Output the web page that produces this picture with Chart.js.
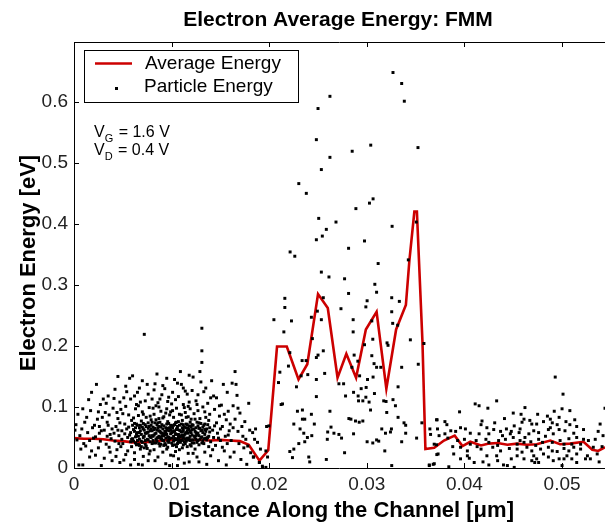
<!DOCTYPE html>
<html><head><meta charset="utf-8">
<script src="https://cdn.jsdelivr.net/npm/chart.js@4.4.1/dist/chart.umd.min.js"></script>
<style>html,body{margin:0;padding:0;background:#fff;overflow:hidden}canvas{display:block}</style>
</head><body>
<canvas id="c" width="609" height="527"></canvas>
<script>
const titleText = 'Electron Average Energy: FMM';
const xAxisTitle = 'Distance Along the Channel [\u03bcm]';
const yAxisTitle = 'Electron Energy [eV]';
const xTicks = [0, 0.01, 0.02, 0.03, 0.04, 0.05];
const xTickLabels = ['0', '0.01', '0.02', '0.03', '0.04', '0.05'];
const yTicks = [0, 0.1, 0.2, 0.3, 0.4, 0.5, 0.6];
const yTickLabels = ['0', '0.1', '0.2', '0.3', '0.4', '0.5', '0.6'];
const seriesNames = ['Average Energy', 'Particle Energy'];

// Average energy curve
const avgX = [0,0.001,0.002,0.003,0.004,0.005,0.006,0.007,0.008,0.009,0.010,0.011,0.012,0.013,0.014,0.015,0.016,0.017,0.0179,0.0190,0.0199,0.0208,0.0218,0.0230,0.0239,0.0250,0.0260,0.0270,0.0279,0.0289,0.0299,0.0310,0.0320,0.0330,0.0340,0.03436,0.03487,0.03513,0.03538,0.0357,0.0360,0.0369,0.0379,0.0390,0.0398,0.0406,0.0417,0.0425,0.0434,0.0444,0.0454,0.0464,0.0474,0.0488,0.0498,0.0508,0.0522,0.0531,0.0537,0.0544];
const avgE = [0.049,0.048,0.048,0.047,0.045,0.044,0.042,0.042,0.043,0.045,0.046,0.047,0.046,0.046,0.045,0.046,0.045,0.044,0.038,0.012,0.029,0.199,0.199,0.145,0.170,0.285,0.262,0.148,0.187,0.148,0.227,0.256,0.130,0.227,0.267,0.340,0.420,0.420,0.326,0.206,0.031,0.033,0.045,0.053,0.036,0.043,0.037,0.040,0.041,0.038,0.040,0.038,0.039,0.045,0.039,0.040,0.043,0.030,0.028,0.034];

// Individual particle energies [x (um), E (eV)]
const particlesLeft = [
[0.0002,0.071],[0.0004,0.088],[0.0005,0.005],[0.0006,0.053],[0.0008,0.064],[0.0009,0.005],[0.0010,0.040],[0.0012,0.036],[0.0013,0.083],[0.0014,0.058],[0.0015,0.112],[0.0016,0.045],[0.0017,0.094],[0.0018,0.028],[0.0019,0.066],[0.0003,0.046],[0.0007,0.031],[0.0011,0.075],[0.0020,0.049],[0.0001,0.062],[0.0016,0.018],
[0.0021,0.070],[0.0022,0.021],[0.0023,0.137],[0.0024,0.080],[0.0025,0.033],[0.0026,0.057],[0.0027,0.044],[0.0028,0.004],[0.0029,0.083],[0.0030,0.113],[0.0031,0.062],[0.0032,0.091],[0.0033,0.039],[0.0034,0.052],[0.0035,0.070],[0.0036,0.087],[0.0037,0.026],[0.0038,0.048],[0.0039,0.064],[0.0040,0.098],[0.0022,0.051],[0.0025,0.092],[0.0028,0.061],[0.0031,0.016],[0.0034,0.075],[0.0037,0.055],[0.0039,0.012],[0.0026,0.068],[0.0033,0.106],[0.0036,0.034],
[0.0041,0.114],[0.0042,0.044],[0.0043,0.068],[0.0044,0.030],[0.0045,0.081],[0.0046,0.053],[0.0047,0.009],[0.0048,0.096],[0.0049,0.061],[0.0050,0.040],[0.0051,0.115],[0.0052,0.072],[0.0053,0.022],[0.0054,0.125],[0.0055,0.050],[0.0056,0.087],[0.0057,0.147],[0.0058,0.113],[0.0059,0.035],[0.0060,0.151],[0.0041,0.057],[0.0043,0.019],[0.0045,0.062],[0.0047,0.074],[0.0049,0.047],[0.0050,0.089],[0.0052,0.056],[0.0053,0.101],[0.0055,0.028],[0.0056,0.067],[0.0058,0.043],[0.0059,0.078],[0.0044,0.091],[0.0048,0.035],[0.0051,0.013],[0.0054,0.064],[0.0057,0.054],[0.0060,0.070],[0.0046,0.040],[0.0058,0.005],
[0.0061,0.044],[0.0061,0.082],[0.0062,0.060],[0.0062,0.025],[0.0063,0.097],[0.0063,0.051],[0.0064,0.072],[0.0064,0.038],[0.0065,0.124],[0.0065,0.058],[0.0066,0.006],[0.0066,0.086],[0.0067,0.047],[0.0067,0.066],[0.0068,0.108],[0.0068,0.031],[0.0069,0.055],[0.0069,0.077],[0.0070,0.092],[0.0070,0.042],[0.0071,0.064],[0.0071,0.019],[0.0072,0.219],[0.0072,0.052],[0.0073,0.110],[0.0073,0.071],[0.0074,0.036],[0.0074,0.083],[0.0075,0.137],[0.0075,0.058],[0.0076,0.046],[0.0076,0.012],[0.0077,0.068],[0.0077,0.099],[0.0078,0.028],[0.0078,0.061],[0.0079,0.050],[0.0079,0.079],[0.0080,0.113],[0.0080,0.040],[0.0062,0.014],[0.0064,0.104],[0.0066,0.039],[0.0068,0.070],[0.0070,0.005],[0.0071,0.088],[0.0073,0.045],[0.0074,0.057],[0.0076,0.074],[0.0077,0.023],[0.0079,0.064],[0.0080,0.053],[0.0067,0.131],[0.0072,0.033],[0.0078,0.085],
[0.0081,0.067],[0.0081,0.045],[0.0082,0.088],[0.0082,0.030],[0.0083,0.056],[0.0083,0.074],[0.0084,0.102],[0.0084,0.041],[0.0085,0.154],[0.0085,0.062],[0.0086,0.050],[0.0086,0.018],[0.0087,0.081],[0.0087,0.068],[0.0088,0.113],[0.0088,0.036],[0.0089,0.058],[0.0089,0.093],[0.0090,0.047],[0.0090,0.071],[0.0091,0.026],[0.0091,0.064],[0.0092,0.084],[0.0092,0.053],[0.0093,0.130],[0.0093,0.040],[0.0094,0.066],[0.0094,0.007],[0.0095,0.097],[0.0095,0.055],[0.0096,0.076],[0.0096,0.034],[0.0097,0.116],[0.0097,0.061],[0.0098,0.048],[0.0098,0.087],[0.0099,0.070],[0.0099,0.021],[0.0100,0.058],[0.0100,0.105],[0.0081,0.098],[0.0082,0.063],[0.0083,0.012],[0.0084,0.079],[0.0085,0.044],[0.0086,0.107],[0.0087,0.052],[0.0088,0.075],[0.0089,0.039],[0.0090,0.120],[0.0091,0.082],[0.0092,0.045],[0.0093,0.060],[0.0094,0.090],[0.0095,0.031],[0.0096,0.065],[0.0097,0.050],[0.0098,0.004],[0.0099,0.092],[0.0100,0.041],[0.0086,0.066],[0.0090,0.057],[0.0094,0.049],[0.0097,0.073],[0.0083,0.138],
[0.0101,0.066],[0.0101,0.037],[0.0102,0.083],[0.0102,0.052],[0.0103,0.145],[0.0103,0.060],[0.0104,0.027],[0.0104,0.074],[0.0105,0.098],[0.0105,0.046],[0.0106,0.139],[0.0106,0.063],[0.0107,0.055],[0.0107,0.015],[0.0108,0.088],[0.0108,0.070],[0.0109,0.158],[0.0109,0.042],[0.0110,0.137],[0.0110,0.059],[0.0111,0.078],[0.0111,0.033],[0.0112,0.050],[0.0112,0.104],[0.0113,0.067],[0.0113,0.008],[0.0114,0.091],[0.0114,0.056],[0.0115,0.044],[0.0115,0.072],[0.0116,0.121],[0.0116,0.061],[0.0117,0.024],[0.0117,0.084],[0.0118,0.049],[0.0118,0.069],[0.0119,0.097],[0.0119,0.038],[0.0120,0.058],[0.0120,0.080],[0.0101,0.094],[0.0102,0.020],[0.0103,0.048],[0.0104,0.112],[0.0105,0.064],[0.0106,0.040],[0.0107,0.076],[0.0108,0.030],[0.0109,0.061],[0.0110,0.087],[0.0111,0.054],[0.0112,0.071],[0.0113,0.043],[0.0114,0.126],[0.0115,0.058],[0.0116,0.035],[0.0117,0.065],[0.0118,0.010],[0.0119,0.075],[0.0120,0.046],[0.0104,0.056],[0.0108,0.053],[0.0111,0.066],[0.0115,0.083],[0.0118,0.108],[0.0106,0.004],[0.0113,0.099],[0.0119,0.052],[0.0102,0.070],[0.0110,0.045],
[0.0121,0.063],[0.0121,0.041],[0.0122,0.149],[0.0122,0.070],[0.0123,0.052],[0.0123,0.089],[0.0124,0.031],[0.0124,0.060],[0.0125,0.110],[0.0125,0.047],[0.0126,0.075],[0.0126,0.018],[0.0127,0.057],[0.0127,0.094],[0.0128,0.065],[0.0128,0.038],[0.0129,0.158],[0.0129,0.081],[0.0130,0.050],[0.0130,0.141],[0.0131,0.229],[0.0131,0.192],[0.0131,0.173],[0.0131,0.062],[0.0132,0.100],[0.0132,0.044],[0.0133,0.125],[0.0133,0.070],[0.0134,0.026],[0.0134,0.055],[0.0135,0.083],[0.0135,0.060],[0.0136,0.046],[0.0136,0.006],[0.0137,0.071],[0.0137,0.106],[0.0138,0.052],[0.0138,0.035],[0.0139,0.088],[0.0139,0.059],[0.0140,0.043],[0.0140,0.115],[0.0122,0.024],[0.0124,0.080],[0.0126,0.055],[0.0128,0.010],[0.0130,0.073],[0.0132,0.058],[0.0134,0.092],[0.0136,0.064],[0.0138,0.078],[0.0140,0.020],[0.0125,0.066],[0.0133,0.048],[0.0127,0.120],
[0.0141,0.143],[0.0142,0.062],[0.0143,0.050],[0.0144,0.096],[0.0145,0.037],[0.0146,0.074],[0.0147,0.057],[0.0148,0.012],[0.0149,0.085],[0.0150,0.045],[0.0151,0.103],[0.0152,0.068],[0.0153,0.137],[0.0154,0.028],[0.0155,0.052],[0.0156,0.079],[0.0157,0.040],[0.0158,0.093],[0.0159,0.061],[0.0160,0.018],[0.0142,0.030],[0.0144,0.069],[0.0146,0.115],[0.0148,0.049],[0.0150,0.064],[0.0152,0.034],[0.0154,0.088],[0.0156,0.005],[0.0158,0.054],[0.0160,0.072],
[0.0161,0.045],[0.0162,0.139],[0.0163,0.102],[0.0164,0.026],[0.0165,0.158],[0.0165,0.080],[0.0166,0.137],[0.0167,0.119],[0.0168,0.060],[0.0169,0.040],[0.0170,0.090],[0.0171,0.014],[0.0172,0.068],[0.0173,0.052],[0.0174,0.033],[0.0175,0.076],[0.0176,0.047],[0.0177,0.006],[0.0179,0.106],[0.0180,0.062],[0.0181,0.025],[0.0183,0.058],[0.0184,0.018],[0.0186,0.064],[0.0188,0.042],[0.0190,0.009],[0.0191,0.031],[0.0193,0.003],[0.0163,0.066],[0.0168,0.098],[0.0178,0.036],[0.0185,0.047],
[0.0060,0.048],[0.0061,0.063],[0.0063,0.041],[0.0064,0.055],[0.0065,0.070],[0.0066,0.052],[0.0067,0.037],[0.0068,0.061],[0.0069,0.044],[0.0070,0.067],[0.0071,0.050],[0.0072,0.062],[0.0073,0.039],[0.0074,0.068],[0.0075,0.047],[0.0076,0.059],[0.0077,0.053],[0.0078,0.043],[0.0079,0.070],[0.0080,0.061],[0.0081,0.052],[0.0082,0.041],[0.0083,0.065],[0.0084,0.057],[0.0085,0.049],[0.0086,0.074],[0.0087,0.040],[0.0088,0.060],[0.0089,0.067],[0.0090,0.052],[0.0091,0.045],[0.0092,0.069],[0.0093,0.055],[0.0094,0.038],[0.0095,0.063],[0.0096,0.051],[0.0097,0.042],[0.0098,0.066],[0.0099,0.056],[0.0100,0.049],[0.0101,0.059],[0.0102,0.044],[0.0103,0.071],[0.0104,0.048],[0.0105,0.055],[0.0106,0.068],[0.0107,0.043],[0.0108,0.062],[0.0109,0.051],[0.0110,0.072],[0.0111,0.046],[0.0112,0.060],[0.0113,0.054],[0.0114,0.040],[0.0115,0.066],[0.0116,0.049],[0.0117,0.057],[0.0118,0.063],[0.0119,0.045],[0.0120,0.068],[0.0121,0.054],[0.0122,0.046],[0.0123,0.064],[0.0124,0.050],[0.0125,0.058],[0.0126,0.042],[0.0127,0.069],[0.0128,0.053],[0.0129,0.047],[0.0130,0.061],[0.0131,0.051],[0.0132,0.067],[0.0133,0.040],[0.0134,0.063],[0.0135,0.049],[0.0062,0.073],[0.0088,0.050],[0.0096,0.044],[0.0105,0.035],[0.0112,0.038],[0.0120,0.036],[0.0128,0.074],
[0.0058,0.058],[0.0059,0.047],[0.0063,0.066],[0.0065,0.045],[0.0067,0.058],[0.0069,0.035],[0.0071,0.073],[0.0073,0.057],[0.0075,0.032],[0.0076,0.065],[0.0078,0.051],[0.0080,0.075],[0.0082,0.054],[0.0084,0.047],[0.0085,0.071],[0.0087,0.061],[0.0089,0.048],[0.0091,0.056],[0.0092,0.037],[0.0094,0.059],[0.0095,0.072],[0.0097,0.046],[0.0099,0.062],[0.0100,0.068],[0.0102,0.061],[0.0103,0.038],[0.0105,0.075],[0.0107,0.050],[0.0108,0.046],[0.0110,0.052],[0.0112,0.064],[0.0114,0.048],[0.0116,0.071],[0.0117,0.046],[0.0119,0.060],[0.0121,0.071],[0.0123,0.041],[0.0125,0.053],[0.0127,0.045],[0.0129,0.065],[0.0131,0.041],[0.0134,0.072],[0.0137,0.050],[0.0139,0.066],
[0.0009,0.097],[0.0018,0.124],[0.0027,0.104],[0.0035,0.118],[0.0042,0.129],[0.0047,0.108],[0.0053,0.134],[0.0062,0.118],[0.0066,0.102],[0.0070,0.143],[0.0076,0.121],[0.0082,0.128],[0.0087,0.100],[0.0091,0.135],[0.0096,0.109],[0.0101,0.124],[0.0107,0.117],[0.0112,0.131],[0.0117,0.101],[0.0121,0.127],[0.0126,0.104],[0.0135,0.131],[0.0143,0.118],[0.0149,0.102],[0.0157,0.124],[0.0045,0.150],[0.0095,0.147],[0.0118,0.152]
];
const particlesMid = [
[0.03268,0.648],[0.03357,0.630],[0.03384,0.601],[0.02622,0.609],[0.0250,0.589],[0.02483,0.538],[0.0285,0.519],[0.0304,0.529],[0.03524,0.525],[0.02622,0.509],[0.02534,0.489],[0.02303,0.466],[0.0238,0.450],[0.03064,0.441],[0.03027,0.434],[0.02888,0.425],[0.02507,0.409],[0.02684,0.403],[0.03259,0.396],[0.03507,0.403],[0.02585,0.391],[0.02544,0.380],[0.02483,0.374],[0.02976,0.372],[0.02813,0.360],[0.02214,0.354],[0.02262,0.347],
[0.03116,0.335],[0.02534,0.321],[0.02612,0.313],[0.02772,0.310],[0.03082,0.301],[0.0310,0.288],[0.02813,0.286],[0.03425,0.341],[0.0216,0.278],[0.02554,0.279],[0.03255,0.279],[0.03003,0.274],[0.03333,0.273],[0.0216,0.263],[0.0299,0.264],[0.02735,0.261],[0.02493,0.257],[0.03255,0.256],[0.02048,0.243],[0.02228,0.241],[0.02432,0.247],[0.02534,0.243],[0.0286,0.243],[0.03051,0.241],[0.03265,0.237],[0.03316,0.234],[0.0215,0.223],[0.0286,0.223],[0.03061,0.211],[0.03446,0.210],[0.02442,0.212],[0.02976,0.202],[0.03207,0.205],[0.03217,0.201],[0.03585,0.204],[0.02211,0.189],[0.02554,0.192],[0.0250,0.185],[0.02483,0.181],[0.02337,0.176],[0.02378,0.176],[0.0287,0.185],[0.03051,0.184],[0.02908,0.175],[0.03074,0.171],[0.02197,0.167],[0.02847,0.165],[0.0310,0.165],[0.03143,0.165],[0.03357,0.165],[0.03527,0.170],[0.02109,0.157],[0.02395,0.153],[0.02568,0.155],[0.02327,0.151],[0.02926,0.151],[0.03064,0.149],[0.02095,0.140],[0.02483,0.145],[0.03007,0.145],[0.02714,0.138],[0.02762,0.138],[0.02279,0.133],[0.02942,0.130],[0.02993,0.132],[0.0332,0.133],[0.02864,0.124],[0.03078,0.122],[0.02782,0.118],[0.02911,0.118],[0.02483,0.117],[0.0299,0.116],[0.02915,0.110],[0.02959,0.110],[0.03173,0.110],[0.03197,0.109],[0.03268,0.112],[0.03023,0.108],[0.02136,0.105],[0.02122,0.104],[0.03293,0.102],[0.02289,0.093],[0.0234,0.095],[0.02622,0.093],[0.03038,0.095],[0.03204,0.091],[0.02432,0.088],[0.0332,0.083],[0.0234,0.080],[0.02364,0.080],[0.02816,0.081],[0.02837,0.080],[0.02884,0.077],[0.02959,0.077],[0.02922,0.075],[0.02252,0.072],[0.02462,0.072],[0.03381,0.074],[0.03398,0.070],[0.03564,0.074],[0.03714,0.079],[0.01973,0.068],[0.01997,0.069],[0.02316,0.064],[0.02633,0.067],[0.03153,0.064],[0.03252,0.064],[0.03242,0.059],[0.03191,0.057],[0.03398,0.057],[0.03646,0.064],[0.02599,0.059],[0.02354,0.057],[0.02663,0.057],[0.02714,0.055],[0.02741,0.049],[0.02864,0.056],[0.02436,0.053],[0.02391,0.050],[0.02595,0.047],[0.02303,0.040],[0.02364,0.043],[0.03003,0.043],[0.03061,0.041],[0.0310,0.046],[0.03122,0.044],[0.03357,0.043],[0.0351,0.049],[0.03653,0.055],[0.02211,0.027],[0.02252,0.031],[0.02772,0.025],[0.03184,0.028],[0.02238,0.017],[0.02405,0.018],[0.02415,0.010],[0.02585,0.014],[0.03255,0.004],[0.0364,0.004],[0.03691,0.007],[0.03717,0.022],[0.03724,0.064],[0.01837,0.018],[0.01898,0.009],[0.01932,0.001],[0.01966,0.001],[0.01983,0.018],[0.01966,0.028],[0.03714,0.038]
];
const particlesRight = [
[0.0372,0.079],[0.0380,0.076],[0.0382,0.071],[0.0395,0.092],[0.0411,0.105],[0.0415,0.102],[0.0424,0.098],[0.0433,0.110],[0.0493,0.149],[0.0501,0.121],[0.0544,0.098],[0.0539,0.072],[0.0537,0.060],[0.0542,0.053],[0.0534,0.047],[0.0541,0.035],[0.0538,0.010],[0.0526,0.020],[0.0529,0.015],
[0.0418,0.077],[0.0417,0.071],[0.0423,0.066],[0.0431,0.074],[0.0441,0.081],[0.0450,0.090],[0.0458,0.088],[0.0462,0.099],[0.0467,0.078],[0.0475,0.088],[0.0485,0.085],[0.0492,0.093],[0.0500,0.097],[0.0508,0.094],[0.0513,0.079],[0.0522,0.063],[0.0504,0.076],[0.0495,0.071],[0.0488,0.066],[0.0481,0.076],[0.0471,0.061],[0.0459,0.075],[0.0451,0.069],[0.0443,0.064],[0.0437,0.060],[0.0430,0.063],[0.0425,0.056],[0.0401,0.064],[0.0396,0.066],[0.0391,0.060],[0.0386,0.061],[0.0380,0.056],[0.0383,0.049],[0.0374,0.053],[0.0369,0.039],[0.0373,0.023],[0.0364,0.005],[0.0368,0.006],[0.0384,0.002],
[0.0403,0.020],[0.0405,0.016],[0.0410,0.009],[0.0419,0.010],[0.0425,0.005],[0.0423,0.020],[0.0433,0.020],[0.0434,0.012],[0.0440,0.005],[0.0444,0.004],[0.0451,0.001],[0.0448,0.015],[0.0454,0.020],[0.0459,0.026],[0.0461,0.015],[0.0469,0.012],[0.0472,0.009],[0.0474,0.015],[0.0481,0.023],[0.0486,0.018],[0.0490,0.028],[0.0497,0.015],[0.0500,0.004],[0.0505,0.020],[0.0510,0.015],[0.0515,0.023],[0.0519,0.031],[0.0512,0.034],[0.0507,0.028],[0.0502,0.032],[0.0495,0.027],[0.0486,0.034],[0.0478,0.031],[0.0469,0.028],[0.0464,0.034],[0.0454,0.031],[0.0446,0.032],[0.0437,0.028],[0.0429,0.034],[0.0417,0.031],[0.0406,0.039],[0.0396,0.034],[0.0388,0.035],
[0.0400,0.047],[0.0412,0.045],[0.0422,0.047],[0.0435,0.045],[0.0442,0.047],[0.0450,0.050],[0.0457,0.045],[0.0462,0.050],[0.0468,0.043],[0.0476,0.047],[0.0483,0.052],[0.0491,0.056],[0.0498,0.045],[0.0507,0.048],[0.0515,0.050],[0.0522,0.047],[0.0527,0.045],[0.0512,0.057],[0.0503,0.061],[0.0497,0.063],[0.0486,0.063],[0.0476,0.058],[0.0466,0.056],[0.0456,0.058],[0.0447,0.056],[0.0439,0.053],[0.0415,0.056],[0.0406,0.057],[0.0457,0.064],[0.0461,0.042],[0.0454,0.039],[0.0473,0.037],[0.0480,0.042],[0.0490,0.042],[0.0502,0.039],[0.0510,0.039],[0.0519,0.039],[0.0532,0.034],[0.0536,0.023],[0.0524,0.015],
[0.0461,0.080],[0.0469,0.072],[0.0488,0.080],[0.0497,0.083],[0.0508,0.071],[0.0515,0.068],[0.0474,0.072],[0.0490,0.074],[0.0448,0.060],[0.0434,0.037],[0.0425,0.042],[0.0413,0.035],[0.0393,0.045],[0.0403,0.028],[0.0396,0.015],[0.0389,0.023],[0.0471,0.020],[0.0476,0.009],[0.0491,0.012],[0.0502,0.015],[0.0515,0.009]
];
const particles = particlesLeft.concat(particlesMid, particlesRight);

const FONT = '"Liberation Sans", Arial, Helvetica, sans-serif';

const decor = {
  id: 'decor',
  afterDraw(chart) {
    const {ctx, chartArea: a, scales: {x, y}} = chart;
    ctx.save();
    ctx.strokeStyle = '#000';
    ctx.lineWidth = 1;
    ctx.beginPath();
    ctx.moveTo(a.left + 0.5, a.top); ctx.lineTo(a.left + 0.5, a.bottom + 1);
    ctx.moveTo(a.left, a.bottom + 0.5); ctx.lineTo(a.right, a.bottom + 0.5);
    ctx.moveTo(a.left, a.top + 0.5); ctx.lineTo(a.right, a.top + 0.5);
    xTicks.forEach(v => {
      const px = Math.round(x.getPixelForValue(v)) + 0.5;
      ctx.moveTo(px, a.bottom); ctx.lineTo(px, a.bottom - 5);
      ctx.moveTo(px, a.top); ctx.lineTo(px, a.top + 5);
    });
    yTicks.forEach(v => {
      const py = Math.round(y.getPixelForValue(v)) + 0.5;
      ctx.moveTo(a.left, py); ctx.lineTo(a.left + 5, py);
    });
    ctx.stroke();

    // titles
    ctx.fillStyle = '#000';
    ctx.textAlign = 'center';
    ctx.textBaseline = 'alphabetic';
    ctx.font = 'bold 21px ' + FONT;
    ctx.fillText(titleText, 338, 26);
    ctx.font = 'bold 22px ' + FONT;
    ctx.fillText(xAxisTitle, 341, 517);
    ctx.save();
    ctx.translate(35, 263);
    ctx.rotate(-Math.PI / 2);
    ctx.fillText(yAxisTitle, 0, 0);
    ctx.restore();

    // legend
    ctx.strokeStyle = '#000';
    ctx.lineWidth = 1;
    ctx.strokeRect(84.5, 50.5, 214, 52);
    ctx.strokeStyle = '#cc0000';
    ctx.lineWidth = 2.5;
    ctx.beginPath(); ctx.moveTo(95, 63.5); ctx.lineTo(132, 63.5); ctx.stroke();
    ctx.fillStyle = '#000';
    ctx.fillRect(115, 87, 3, 3);
    ctx.font = '19px ' + FONT;
    ctx.textAlign = 'left';
    ctx.textBaseline = 'middle';
    ctx.fillText(seriesNames[0], 145, 64);
    ctx.fillText(seriesNames[1], 144, 87);

    // annotations
    const drawSub = (main, sub, rest, x0, yb) => {
      ctx.textBaseline = 'alphabetic';
      ctx.font = '16px ' + FONT;
      ctx.fillText(main, x0, yb);
      let xx = x0 + ctx.measureText(main).width;
      ctx.font = '11px ' + FONT;
      ctx.fillText(sub, xx, yb + 5);
      xx += ctx.measureText(sub).width;
      ctx.font = '16px ' + FONT;
      ctx.fillText(rest, xx + 1, yb);
    };
    drawSub('V', 'G', ' = 1.6 V', 94, 137);
    drawSub('V', 'D', ' = 0.4 V', 94, 155);
    ctx.restore();
  }
};

new Chart(document.getElementById('c'), {
  type: 'scatter',
  data: {
    datasets: [
      {
        label: seriesNames[1],
        data: particles.map(p => ({x: p[0], y: p[1]})),
        pointStyle: 'rect', pointRadius: 2.1, pointBorderWidth: 0,
        backgroundColor: '#000', borderColor: '#000', order: 0
      },
      {
        label: seriesNames[0],
        data: avgX.map((v, i) => ({x: v, y: avgE[i]})),
        showLine: true, borderColor: '#cc0000', borderWidth: 2.6,
        pointRadius: 0, tension: 0, fill: false, order: 1
      }
    ]
  },
  options: {
    responsive: false, animation: false, devicePixelRatio: 1,
    layout: {padding: {top: 42, right: 0, left: 0, bottom: 0}},
    plugins: {legend: {display: false}, tooltip: {enabled: false}, title: {display: false}},
    scales: {
      x: {
        type: 'linear', min: 0, max: 0.0544,
        afterBuildTicks: s => { s.ticks = xTicks.map(v => ({value: v})); },
        afterFit: s => { s.height = 59; },
        ticks: {callback: (v, i) => xTickLabels[i], font: {family: FONT, size: 19}, color: '#222', padding: 5, maxRotation: 0, autoSkip: false},
        grid: {display: false, drawTicks: false},
        border: {display: false}
      },
      y: {
        type: 'linear', min: 0, max: 0.698,
        afterBuildTicks: s => { s.ticks = yTicks.map(v => ({value: v})); },
        afterFit: s => { s.width = 74; },
        ticks: {callback: (v, i) => yTickLabels[i], font: {family: FONT, size: 19}, color: '#222', padding: 6, autoSkip: false},
        grid: {display: false, drawTicks: false},
        border: {display: false}
      }
    }
  },
  plugins: [decor]
});
</script>
</body></html>
